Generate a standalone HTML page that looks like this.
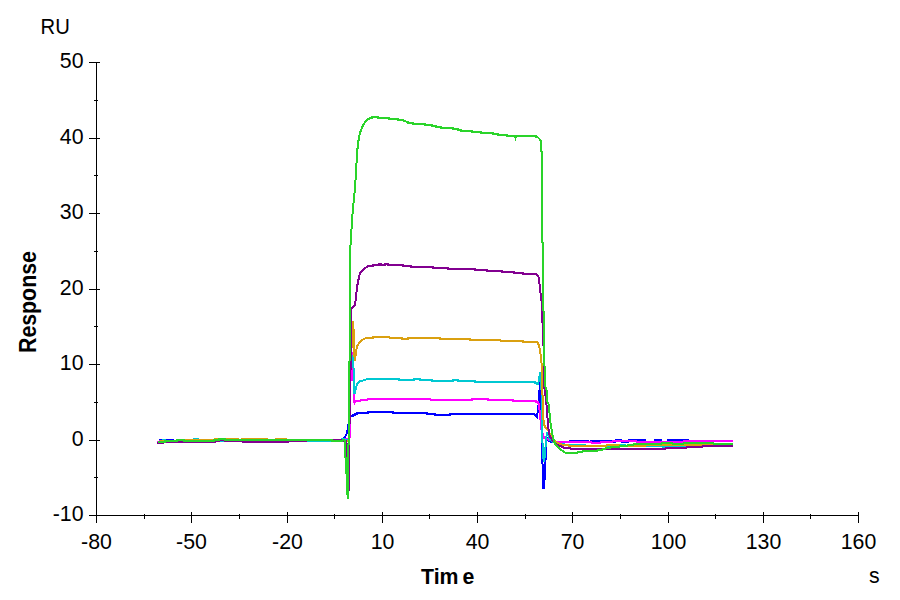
<!DOCTYPE html>
<html><head><meta charset="utf-8"><style>
html,body{margin:0;padding:0;background:#fff;}
svg{display:block;}
text{font-family:"Liberation Sans",sans-serif;font-size:21.33px;fill:#000;}
</style></head><body>
<svg width="900" height="600" viewBox="0 0 900 600">
<rect width="900" height="600" fill="#fff"/>
<g stroke="#000" stroke-width="1" shape-rendering="crispEdges">
<line x1="96.5" y1="62" x2="96.5" y2="523"/>
<line x1="89" y1="515.5" x2="859" y2="515.5"/>
<line x1="89" y1="515.5" x2="100" y2="515.5"/>
<line x1="94" y1="477.5" x2="98" y2="477.5"/>
<line x1="89" y1="440.5" x2="100" y2="440.5"/>
<line x1="94" y1="402.5" x2="98" y2="402.5"/>
<line x1="89" y1="364.5" x2="100" y2="364.5"/>
<line x1="94" y1="326.5" x2="98" y2="326.5"/>
<line x1="89" y1="289.5" x2="100" y2="289.5"/>
<line x1="94" y1="251.5" x2="98" y2="251.5"/>
<line x1="89" y1="213.5" x2="100" y2="213.5"/>
<line x1="94" y1="175.5" x2="98" y2="175.5"/>
<line x1="89" y1="138.5" x2="100" y2="138.5"/>
<line x1="94" y1="100.5" x2="98" y2="100.5"/>
<line x1="89" y1="62.5" x2="100" y2="62.5"/>
<line x1="96.5" y1="512" x2="96.5" y2="523"/>
<line x1="144.5" y1="514" x2="144.5" y2="519"/>
<line x1="191.5" y1="512" x2="191.5" y2="523"/>
<line x1="239.5" y1="514" x2="239.5" y2="519"/>
<line x1="287.5" y1="512" x2="287.5" y2="523"/>
<line x1="334.5" y1="514" x2="334.5" y2="519"/>
<line x1="382.5" y1="512" x2="382.5" y2="523"/>
<line x1="429.5" y1="514" x2="429.5" y2="519"/>
<line x1="477.5" y1="512" x2="477.5" y2="523"/>
<line x1="525.5" y1="514" x2="525.5" y2="519"/>
<line x1="572.5" y1="512" x2="572.5" y2="523"/>
<line x1="620.5" y1="514" x2="620.5" y2="519"/>
<line x1="668.5" y1="512" x2="668.5" y2="523"/>
<line x1="715.5" y1="514" x2="715.5" y2="519"/>
<line x1="763.5" y1="512" x2="763.5" y2="523"/>
<line x1="810.5" y1="514" x2="810.5" y2="519"/>
<line x1="858.5" y1="512" x2="858.5" y2="523"/>
</g>
<g>
<text transform="translate(83.5,68) scale(1,1.075)" text-anchor="end" >50</text>
<text transform="translate(83.5,144) scale(1,1.075)" text-anchor="end" >40</text>
<text transform="translate(83.5,219) scale(1,1.075)" text-anchor="end" >30</text>
<text transform="translate(83.5,295) scale(1,1.075)" text-anchor="end" >20</text>
<text transform="translate(83.5,370) scale(1,1.075)" text-anchor="end" >10</text>
<text transform="translate(83.5,446) scale(1,1.075)" text-anchor="end" >0</text>
<text transform="translate(83.5,521) scale(1,1.075)" text-anchor="end" >-10</text>
<text transform="translate(96.5,549) scale(1,1.075)" text-anchor="middle" >-80</text>
<text transform="translate(191.5,549) scale(1,1.075)" text-anchor="middle" >-50</text>
<text transform="translate(287.5,549) scale(1,1.075)" text-anchor="middle" >-20</text>
<text transform="translate(382.5,549) scale(1,1.075)" text-anchor="middle" >10</text>
<text transform="translate(477.5,549) scale(1,1.075)" text-anchor="middle" >40</text>
<text transform="translate(572.5,549) scale(1,1.075)" text-anchor="middle" >70</text>
<text transform="translate(668.5,549) scale(1,1.075)" text-anchor="middle" >100</text>
<text transform="translate(763.5,549) scale(1,1.075)" text-anchor="middle" >130</text>
<text transform="translate(858.5,549) scale(1,1.075)" text-anchor="middle" >160</text>
<text transform="translate(40.5,34) scale(0.95,1.075)">RU</text>
<text transform="translate(421,584) scale(1,1.075)" style="font-weight:bold">Tim<tspan dx="4">e</tspan></text>
<text transform="translate(869,583) scale(1,1.075)" text-anchor="start" >s</text>
<text transform="translate(35.5,353) rotate(-90) scale(1,1.12)" style="font-weight:bold;font-size:21.33px">Response</text>
</g>
<g fill="none" stroke-width="2" stroke-linejoin="miter" shape-rendering="crispEdges">
<polyline points="159.0,440.0 173.0,440.0 174.0,441.0 343.0,441.0 344.0,438.0 345.0,437.0 346.0,435.0 347.0,433.0 348.0,428.0 349.0,420.0 350.0,416.0 353.0,416.0 353.0,415.0 355.0,415.0 355.0,414.0 357.0,414.0 357.0,413.0 368.0,413.0 368.0,412.0 393.0,412.0 393.0,413.0 427.0,413.0 427.0,414.0 435.0,414.0 435.0,415.0 450.0,415.0 450.0,414.0 534.0,414.0 536.0,416.0 537.0,417.0 538.0,410.0 539.0,400.0 540.0,380.0 541.0,390.0 542.0,430.0 542.5,464.0 543.5,489.0 545.0,475.0 546.0,445.0 547.0,437.0 548.0,440.0 550.0,441.5 555.0,441.5 569.0,441.5 570.0,441.0 588.0,441.0 589.0,442.0 590.0,442.0 591.0,441.0 612.0,441.0 613.0,442.0 615.0,442.0 616.0,440.0 621.0,440.0 622.0,442.0 628.0,442.0 629.0,440.0 645.0,440.0 646.0,442.0 654.0,442.0 655.0,440.0 661.0,440.0 662.0,442.0 667.0,442.0 668.0,440.0 688.0,440.0 689.0,441.0 733.0,441.0" stroke="#0000ff"/>
<polyline points="157.0,442.0 160.0,442.0 160.0,441.0 344.0,441.0 345.0,439.0 346.0,439.0 349.0,439.0 350.0,437.0 350.0,390.0 351.0,372.0 352.0,353.0 353.0,355.0 353.0,372.0 354.0,390.0 354.5,403.0 356.0,401.0 360.0,401.0 361.0,400.0 367.0,400.0 368.0,399.0 430.0,399.0 431.0,400.0 472.0,400.0 472.0,399.0 488.0,399.0 488.0,400.0 513.0,400.0 513.0,401.0 536.0,401.0 536.0,402.0 538.0,402.0 539.0,405.0 540.5,420.0 541.5,430.0 543.0,435.0 544.0,438.0 550.0,440.0 553.0,441.0 557.0,442.0 591.0,442.0 592.0,443.0 600.0,443.0 601.0,442.0 612.0,442.0 613.0,441.0 636.0,441.0 637.0,442.0 683.0,442.0 684.0,441.0 733.0,441.0" stroke="#ff00ff"/>
<polyline points="160.0,441.0 163.0,441.0 163.0,440.0 165.0,440.0 165.0,441.0 194.0,441.0 194.0,439.0 198.0,439.0 198.0,441.0 341.0,441.0 342.0,439.0 344.0,439.0 346.0,440.0 349.0,441.0 349.0,362.0 350.0,360.0 352.0,357.0 352.0,356.0 353.0,356.0 354.0,380.0 354.5,394.0 356.0,388.0 357.0,384.0 359.3,381.3 362.7,380.7 366.7,379.3 368.0,379.0 399.0,379.0 399.0,380.0 414.0,380.0 414.0,379.0 420.0,379.0 420.0,380.0 432.0,380.0 432.0,381.0 453.0,381.0 453.0,380.0 458.0,380.0 458.0,381.0 475.0,381.0 475.0,382.0 535.0,382.0 535.0,383.0 538.0,384.0 539.0,380.0 540.0,372.0 541.0,380.0 542.0,400.0 542.0,430.0 543.0,455.0 544.0,462.0 545.0,455.0 546.0,440.0 547.0,432.0 550.0,440.0 555.0,443.0 560.0,444.0 569.0,445.0 585.0,445.0 586.0,446.0 605.0,446.0 606.0,447.0 610.0,447.0 611.0,446.0 619.0,446.0 620.0,445.0 625.0,445.0 626.0,446.0 662.0,446.0 663.0,447.0 675.0,447.0 676.0,446.0 733.0,446.0" stroke="#00c8d2"/>
<polyline points="160.0,441.0 183.0,441.0 184.0,440.0 214.0,440.0 215.0,439.0 238.0,439.0 239.0,440.0 241.0,440.0 242.0,439.0 267.0,439.0 268.0,440.0 275.0,440.0 276.0,439.0 286.0,439.0 287.0,440.0 340.0,440.0 341.0,440.0 344.0,440.0 346.0,441.0 349.0,441.0 349.0,362.0 350.0,360.0 350.0,350.0 352.0,347.0 352.0,322.0 353.0,322.0 354.0,336.0 354.0,352.0 355.0,361.0 356.0,352.0 357.0,346.0 360.0,342.0 363.0,339.5 366.0,338.0 373.0,338.0 373.0,337.0 389.0,337.0 390.0,338.0 402.0,338.0 402.0,339.0 408.0,339.0 408.0,338.0 440.0,338.0 440.0,339.0 470.0,339.0 470.0,340.0 500.0,340.0 501.0,341.0 523.0,341.0 523.0,342.0 536.5,342.0 538.0,343.0 539.0,346.0 540.0,350.0 541.0,358.0 541.5,363.0 542.0,380.0 542.5,395.0 543.0,410.0 543.5,420.0 544.0,424.0 545.0,427.0 548.0,430.0 550.0,434.0 552.0,438.0 556.0,442.0 560.0,444.0 563.0,445.0 568.0,445.0 569.0,446.0 606.0,446.0 607.0,445.0 619.0,445.0 620.0,446.0 645.0,446.0 646.0,445.0 733.0,445.0" stroke="#daa010"/>
<polyline points="157.0,443.0 163.0,443.0 163.0,442.0 215.0,442.0 215.0,441.0 219.0,441.0 219.0,440.0 225.0,440.0 225.0,441.0 243.0,441.0 243.0,442.0 288.0,442.0 288.0,441.0 306.0,441.0 306.0,440.0 341.0,440.0 342.0,441.0 344.0,441.0 346.0,441.0 347.0,446.0 347.0,457.0 348.0,470.0 349.0,491.0 349.0,425.0 350.0,423.0 350.0,380.0 351.0,360.0 351.0,310.0 352.0,308.0 355.0,305.0 356.0,298.0 357.0,287.0 359.0,277.0 360.0,273.0 364.0,269.0 367.7,266.4 369.0,266.0 373.0,266.0 373.0,265.0 379.0,265.0 379.0,264.0 381.0,264.0 381.0,265.0 385.0,265.0 385.0,264.0 388.0,264.0 388.0,265.0 403.0,265.0 403.0,266.0 411.0,266.0 411.0,267.0 433.0,267.0 433.0,268.0 448.0,268.0 448.0,269.0 475.0,269.0 475.0,270.0 487.0,270.0 487.0,271.0 502.0,271.0 502.0,272.0 514.0,272.0 514.0,273.0 523.0,273.0 523.0,274.0 536.0,274.0 538.5,276.5 539.0,283.0 540.0,285.0 540.0,292.0 541.0,294.0 541.0,300.0 542.0,302.0 542.0,322.0 543.0,324.0 544.0,367.0 544.0,385.0 545.0,392.0 546.0,400.0 547.0,410.0 548.0,425.0 549.0,432.0 550.0,437.0 553.0,441.0 556.0,444.0 560.0,446.0 563.0,447.0 564.0,448.0 570.0,448.0 571.0,449.0 665.0,449.0 666.0,448.0 686.0,448.0 687.0,447.0 702.0,447.0 703.0,446.0 733.0,446.0" stroke="#820090"/>
<polyline points="158.0,442.0 165.0,442.0 165.0,441.0 177.0,441.0 177.0,440.0 184.0,440.0 184.0,441.0 214.0,441.0 214.0,440.0 219.0,440.0 219.0,439.0 225.0,439.0 225.0,440.0 332.0,440.0 332.0,441.0 342.0,441.0 343.0,440.0 344.0,440.0 345.0,441.0 345.0,457.0 347.0,460.0 347.0,491.0 348.0,499.0 348.0,445.0 349.0,444.0 349.0,362.0 350.0,360.0 350.0,280.0 350.5,245.0 351.7,226.0 352.8,210.0 354.5,193.6 355.9,175.0 357.0,154.0 358.0,143.3 359.0,138.0 360.0,132.7 361.0,130.0 362.0,127.7 363.0,125.0 365.0,122.3 367.0,120.0 369.0,118.7 371.0,118.0 372.0,118.0 372.0,117.0 378.0,117.0 378.0,118.0 389.0,118.0 389.0,119.0 398.0,119.0 398.0,120.0 403.0,120.0 404.0,121.0 408.0,122.0 408.0,123.0 413.0,123.0 413.0,124.0 425.0,124.0 425.0,125.0 432.0,125.0 432.0,126.0 436.0,126.0 436.0,127.0 441.0,127.0 441.0,128.0 453.0,128.0 453.0,129.0 458.0,129.0 458.0,130.0 461.0,130.0 461.0,131.0 472.0,131.0 472.0,132.0 481.0,132.0 481.0,133.0 493.0,133.0 493.0,134.0 498.0,134.0 498.0,135.0 507.0,135.0 507.0,136.0 515.0,136.0 515.5,137.5 516.0,136.0 536.0,136.0 536.0,137.0 537.0,137.0 538.0,137.5 540.0,139.5 541.0,141.0 541.0,151.0 542.0,152.0 542.0,240.0 543.0,245.0 543.0,310.0 544.0,312.0 544.0,365.0 545.0,367.0 545.0,385.0 546.5,390.0 546.5,400.0 548.0,403.0 549.0,405.0 550.0,420.0 552.0,432.0 553.0,438.0 555.0,444.0 557.0,446.0 560.0,449.0 564.0,452.0 566.0,453.0 577.0,453.0 578.0,452.0 582.0,452.0 583.0,451.0 597.0,451.0 598.0,450.0 602.0,450.0 603.0,449.0 605.0,449.0 606.0,448.0 610.0,448.0 611.0,447.0 619.0,447.0 620.0,446.0 627.0,446.0 628.0,445.0 633.0,445.0 634.0,444.0 661.0,444.0 662.0,443.0 672.0,443.0 673.0,444.0 683.0,444.0 684.0,443.0 713.0,443.0 714.0,444.0 733.0,444.0" stroke="#2ad42a"/>
<polygon points="345,457 349,457 349,499 347,499 347,491 346,491 346,474 345,474" fill="#2ad42a" stroke="none"/>
</g>
</svg>
</body></html>
